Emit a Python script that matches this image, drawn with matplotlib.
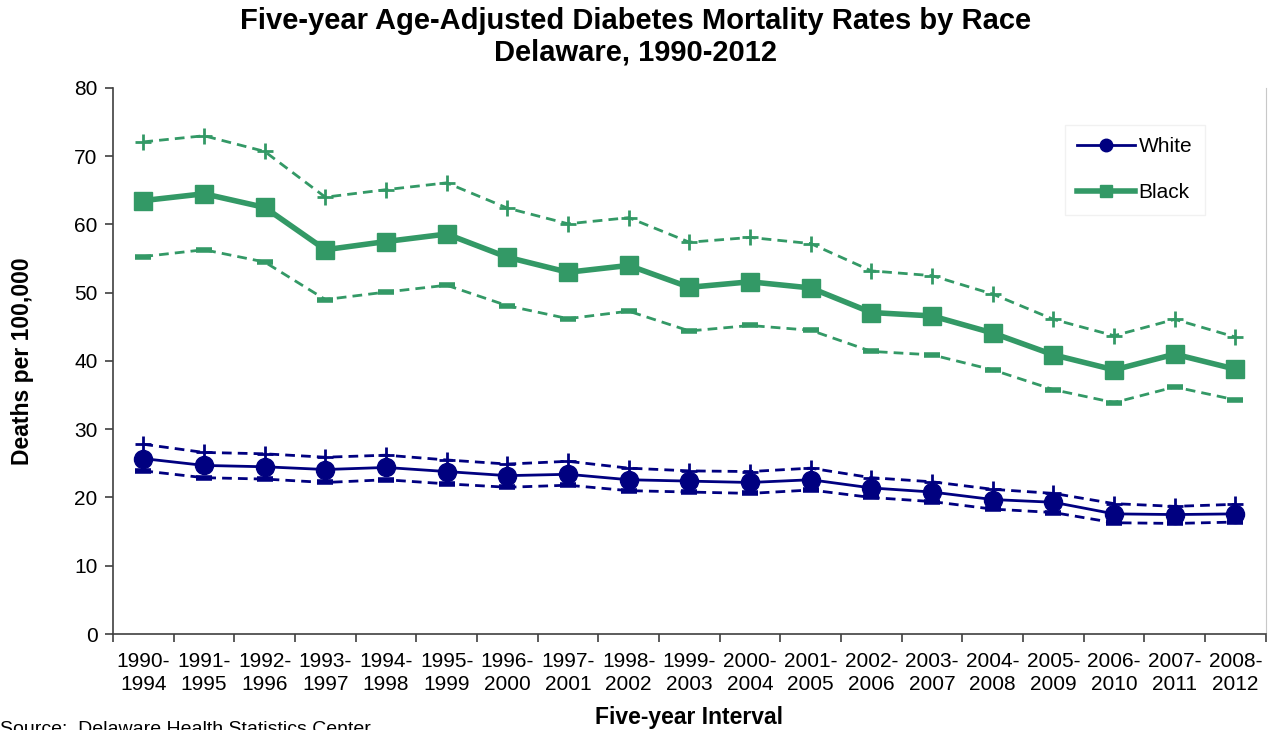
import matplotlib
matplotlib.use("Agg")
import matplotlib.pyplot as plt
import numpy as np

plt.rcParams['font.family'] = ['Liberation Sans', 'DejaVu Sans']

intervals = ["1990-\n1994", "1991-\n1995", "1992-\n1996", "1993-\n1997", "1994-\n1998",
             "1995-\n1999", "1996-\n2000", "1997-\n2001", "1998-\n2002", "1999-\n2003",
             "2000-\n2004", "2001-\n2005", "2002-\n2006", "2003-\n2007", "2004-\n2008",
             "2005-\n2009", "2006-\n2010", "2007-\n2011", "2008-\n2012"]

black_rate = [63.5, 64.5, 62.5, 56.3, 57.5, 58.6, 55.2, 53.0, 54.0, 50.8,
              51.6, 50.7, 47.1, 46.6, 44.1, 40.9, 38.7, 41.0, 38.8]
black_upper = [72.1, 73.0, 70.7, 64.0, 65.1, 66.1, 62.4, 60.1, 61.0, 57.4,
               58.1, 57.2, 53.2, 52.5, 49.8, 46.1, 43.7, 46.1, 43.5]
black_lower = [55.3, 56.3, 54.5, 49.0, 50.1, 51.1, 48.1, 46.2, 47.3, 44.4,
               45.2, 44.5, 41.4, 40.9, 38.7, 35.8, 33.9, 36.2, 34.3]

white_rate = [25.7, 24.7, 24.5, 24.1, 24.4, 23.8, 23.2, 23.4, 22.6, 22.4,
              22.2, 22.6, 21.4, 20.8, 19.7, 19.3, 17.6, 17.5, 17.6]
white_upper = [27.8, 26.6, 26.4, 25.9, 26.2, 25.5, 24.9, 25.3, 24.3, 23.9,
               23.8, 24.3, 22.9, 22.3, 21.2, 20.6, 19.1, 18.7, 19.0]
white_lower = [23.9, 22.9, 22.7, 22.2, 22.6, 22.0, 21.5, 21.8, 21.0, 20.8,
               20.6, 21.1, 20.0, 19.4, 18.3, 17.8, 16.3, 16.2, 16.4]

navy = "#000080"
green = "#339966"

fig = plt.figure(figsize=(12.71, 7.30), dpi=100)
ax = fig.add_axes([0.0889, 0.1315, 0.907, 0.748])

x = np.arange(len(intervals))

# confidence bounds
for up, lo, c in [(black_upper, black_lower, green), (white_upper, white_lower, navy)]:
    ax.plot(x, up, color=c, lw=2, ls=(0, (3.5, 2.2)), marker='+', ms=12, mew=2)
    ax.plot(x, lo, color=c, lw=2, ls=(0, (3.5, 2.2)), marker='_', ms=11, mew=4)

ax.plot(x, white_rate, color=navy, lw=2, marker='o', ms=13, label='White')
ax.plot(x, black_rate, color=green, lw=4, marker='s', ms=12.5, label='Black')

ax.set_xlim(-0.5, len(intervals) - 0.5)
ax.set_ylim(0, 80)
ax.set_yticks(np.arange(0, 81, 10))
ax.set_xticks(x)
ax.set_xticklabels(intervals, fontsize=15, linespacing=1.25)
ax.set_xticks(np.arange(-0.5, len(intervals), 1), minor=True)
ax.tick_params(axis='x', which='major', length=0, pad=13)
ax.tick_params(axis='x', which='minor', length=6, width=1.2, color='#404040')
ax.tick_params(axis='y', length=6, width=1.2, color='#404040', labelsize=15, pad=5)

ax.spines['top'].set_visible(False)
ax.spines['right'].set_color('#c8c8c8')
ax.spines['left'].set_color('#404040')
ax.spines['bottom'].set_color('#404040')
ax.spines['left'].set_linewidth(1.2)
ax.spines['bottom'].set_linewidth(1.2)

ax.set_ylabel('Deaths per 100,000', fontsize=16.5, fontweight='bold', labelpad=29)
ax.set_xlabel('Five-year Interval', fontsize=16.5, fontweight='bold', labelpad=9)

fig.text(0.5, 0.99, 'Five-year Age-Adjusted Diabetes Mortality Rates by Race\nDelaware, 1990-2012',
         ha='center', va='top', fontsize=21, fontweight='bold', linespacing=1.15)

leg = ax.legend(loc='upper right', bbox_to_anchor=(0.947, 0.933), borderaxespad=0,
                fontsize=15, frameon=True, fancybox=False, edgecolor='#eeeeee',
                handlelength=2.8, labelspacing=1.3, borderpad=0.6, handletextpad=0.15)
for h in leg.legend_handles:
    h.set_markersize(9)

fig.text(0.0, 0.0, 'Source:  Delaware Health Statistics Center', fontsize=14,
         ha='left', va='center')

fig.savefig('out.png', dpi=100)
